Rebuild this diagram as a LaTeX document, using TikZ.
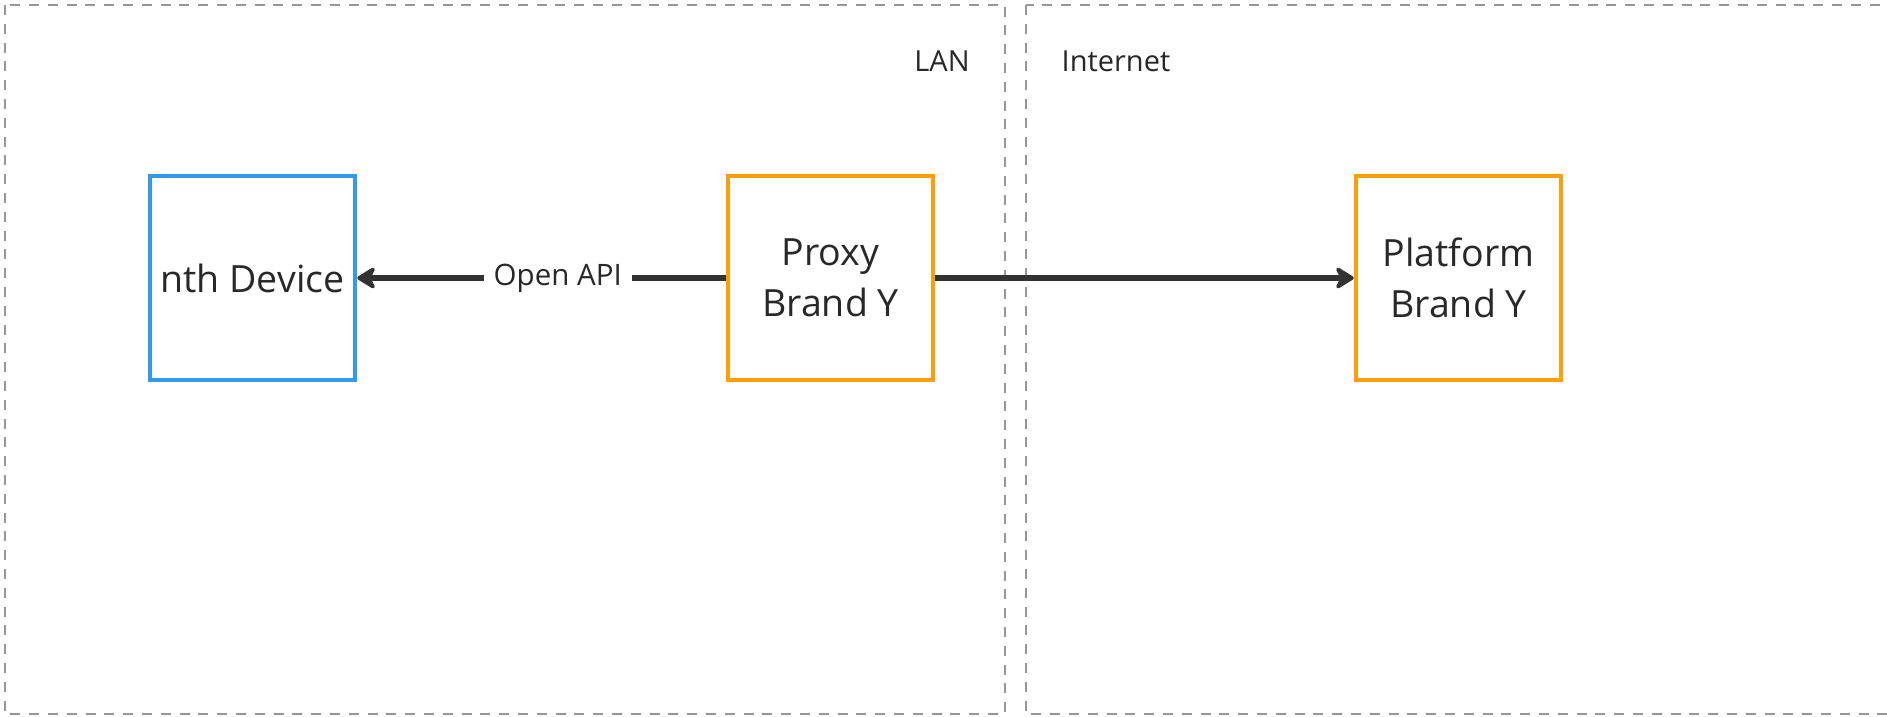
\documentclass[tikz,border=0pt]{standalone}
\usepackage{fontspec}
\setmainfont{Open Sans}
\usetikzlibrary{arrows.meta}
\definecolor{zoneline}{RGB}{150,150,150}
\definecolor{ink}{RGB}{40,40,40}
\definecolor{wire}{RGB}{51,51,51}
\definecolor{devblue}{RGB}{52,152,235}
\definecolor{brandorange}{RGB}{255,159,10}
\tikzset{
  zone/.style={draw=zoneline, line width=1.6pt, dash pattern=on 10pt off 8.8pt},
  zonelabel/.style={text=ink, font=\fontsize{29}{34}\selectfont, inner sep=0pt},
  unit/.style={draw=#1, line width=4.5pt, minimum width=205pt, minimum height=204pt,
    inner sep=0pt, align=center, text=ink, font=\fontsize{37.5}{51}\selectfont},
  link/.style={draw=wire, line width=6pt,
    -{Stealth[length=22pt, width=27pt, inset=7pt, round]}},
  linklabel/.style={fill=white, text=ink, inner xsep=10pt, inner ysep=4pt,
    font=\fontsize{29.5}{34}\selectfont}
}
\begin{document}
\begin{tikzpicture}[x=1pt, y=-1pt]
  \useasboundingbox (0,0) rectangle (1887,716);
  \fill[white] (0,0) rectangle (1887,716);

  % network zones
  \draw[zone] (5,5) rectangle (1005,714);
  \draw[zone] (1026,5) rectangle (1900,714);
  \node[zonelabel] (lan) at (942,61) {LAN};
  \node[zonelabel] (inet) at (1116,61) {Internet};

  % components
  \node[unit=devblue] (dev) at (252.5,278) {nth Device};
  \node[unit=brandorange] (proxy) at (830.5,278) {Proxy\\Brand Y};
  \node[unit=brandorange] (plat) at (1458.5,278) {Platform\\Brand Y};

  % connections
  \draw[link] (proxy.west) -- node[linklabel, pos=0.456] (api) {Open API} (dev.east);
  \draw[link] (proxy.east) -- (plat.west);
\end{tikzpicture}
\end{document}
